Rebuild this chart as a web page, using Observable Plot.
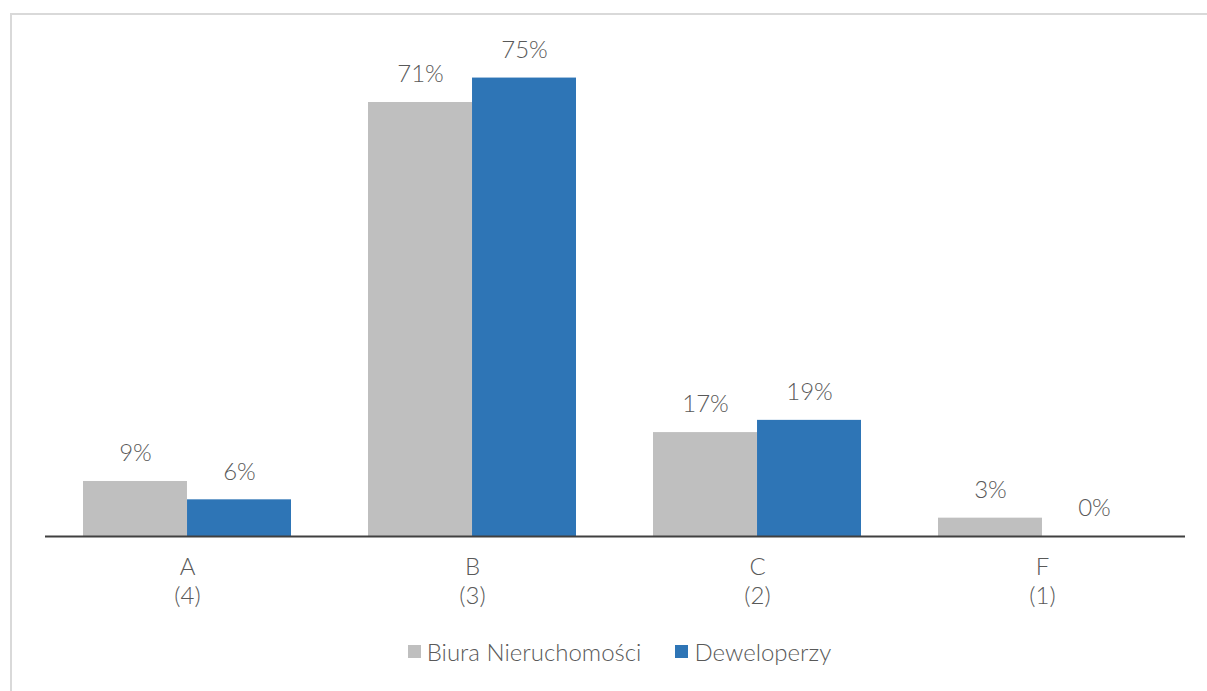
<!DOCTYPE html>
<html>
<head>
<meta charset="utf-8">
<script src="https://cdn.jsdelivr.net/npm/d3@7"></script>
<script src="https://cdn.jsdelivr.net/npm/@observablehq/plot@0.6"></script>
<style>
  html, body { margin: 0; padding: 0; background: #fff; }
  #wrap { position: relative; width: 1207px; height: 691px; overflow: hidden; font-family: Lato, "Open Sans", sans-serif; font-weight: 300; }
  #frame { position: absolute; left: 10px; top: 13px; width: 1300px; height: 800px; border-top: 2px solid #d9d9d9; border-left: 2px solid #d9d9d9; box-sizing: border-box; pointer-events: none; }
  #chart { position: absolute; left: 0; top: 0; }
  #legend { position: absolute; left: 16px; top: 628px; width: 1207px; height: 46px; display: flex; justify-content: center; align-items: center; font-size: 24px; color: #595959; }
  .item { display: flex; align-items: center; }
  .sw { width: 13px; height: 13px; display: inline-block; margin-right: 6px; }
</style>
</head>
<body>
<div id="wrap">
  <div id="frame"></div>
  <div id="chart"></div>
  <div id="legend"></div>
</div>
<script>
const categories = ["A", "B", "C", "F"];
const counts = ["(4)", "(3)", "(2)", "(1)"];
const series = ["Biura Nieruchomości", "Deweloperzy"];
const biura = [9, 71, 17, 3];
const deweloperzy = [6, 75, 19, 0];
const colors = ["#BFBFBF", "#2E75B6"];

const data = [];
categories.forEach((c, i) => {
  data.push({cat: c, series: series[0], value: biura[i]});
  data.push({cat: c, series: series[1], value: deweloperzy[i]});
});
const catRows = categories.map((c, i) => ({cat: c, count: counts[i]}));

const W = 1207, H = 630, ML = 45, MR = 22, MT = 47, MB = H - 536;
const padIn = 0.27, padOut = 0.135;
const step = (W - ML - MR) / categories.length;
const half = step * (1 - padIn) / 2;

const first = data.filter(d => d.series === series[0]);
const second = data.filter(d => d.series === series[1]);
const txt = "#595959";

const plot = Plot.plot({
  width: W,
  height: H,
  marginLeft: ML,
  marginRight: MR,
  marginTop: MT,
  marginBottom: MB,
  style: {fontFamily: "Lato, 'Open Sans', sans-serif", fontSize: "24px", color: txt, background: "transparent", fontWeight: 300},
  x: {domain: categories, paddingInner: padIn, paddingOuter: padOut, axis: null},
  y: {domain: [0, 80], axis: null},
  color: {domain: series, range: colors},
  marks: [
    Plot.barY(first, {x: "cat", y: "value", fill: colors[0], insetRight: half, insetLeft: 0}),
    Plot.barY(second, {x: "cat", y: "value", fill: colors[1], insetLeft: half, insetRight: 0}),
    Plot.text(first, {x: "cat", y: "value", text: d => d.value + "%", dx: -half / 2, dy: -28, fill: txt, fontSize: 24}),
    Plot.text(second, {x: "cat", y: "value", text: d => d.value + "%", dx: half / 2, dy: -28, fill: txt, fontSize: 24}),
    Plot.text(catRows, {x: "cat", y: () => 0, text: "cat", dy: 31, fill: txt, fontSize: 24}),
    Plot.text(catRows, {x: "cat", y: () => 0, text: "count", dy: 60, fill: txt, fontSize: 24}),
    Plot.ruleY([0], {stroke: "#404040", strokeWidth: 2})
  ]
});
document.getElementById("chart").appendChild(plot);

const legend = document.getElementById("legend");
series.forEach((s, i) => {
  const item = document.createElement("span");
  item.className = "item";
  if (i > 0) item.style.marginLeft = "34px";
  const sw = document.createElement("span");
  sw.className = "sw";
  sw.style.background = colors[i];
  const t = document.createElement("span");
  t.textContent = s;
  item.appendChild(sw);
  item.appendChild(t);
  legend.appendChild(item);
});
</script>
</body>
</html>
